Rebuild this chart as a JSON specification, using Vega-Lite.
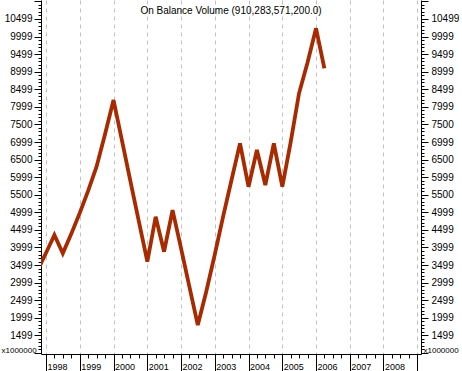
{
  "$schema": "https://vega.github.io/schema/vega-lite/v6.json",
  "width": 380,
  "height": 354,
  "autosize": {"type": "none"},
  "padding": {"left": 41, "top": 0, "right": 41, "bottom": 17},
  "background": "white",
  "config": {"view": {"stroke": null}, "font": "Liberation Sans"},
  "title": {"text": "On Balance Volume (910,283,571,200.0)", "fontSize": 10, "font": "Liberation Sans", "fontWeight": "normal", "color": "black", "anchor": "middle", "offset": -20},
  "data": {"values": [
    {"date": "1997-10-01", "obv": 3350},
    {"date": "1998-01-01", "obv": 3850},
    {"date": "1998-04-01", "obv": 4354},
    {"date": "1998-07-01", "obv": 3834},
    {"date": "1998-10-01", "obv": 4391},
    {"date": "1999-01-01", "obv": 4983},
    {"date": "1999-04-01", "obv": 5609},
    {"date": "1999-07-01", "obv": 6297},
    {"date": "1999-10-01", "obv": 7219},
    {"date": "2000-01-01", "obv": 8195},
    {"date": "2000-04-01", "obv": 7045},
    {"date": "2000-07-01", "obv": 5895},
    {"date": "2000-10-01", "obv": 4745},
    {"date": "2001-01-01", "obv": 3595},
    {"date": "2001-04-01", "obv": 4875},
    {"date": "2001-07-01", "obv": 3879},
    {"date": "2001-10-01", "obv": 5065},
    {"date": "2002-01-01", "obv": 3975},
    {"date": "2002-04-01", "obv": 2885},
    {"date": "2002-07-01", "obv": 1794},
    {"date": "2002-10-01", "obv": 2750},
    {"date": "2003-01-01", "obv": 3800},
    {"date": "2003-04-01", "obv": 4880},
    {"date": "2003-07-01", "obv": 5920},
    {"date": "2003-10-01", "obv": 6963},
    {"date": "2004-01-01", "obv": 5728},
    {"date": "2004-04-01", "obv": 6772},
    {"date": "2004-07-01", "obv": 5777},
    {"date": "2004-10-01", "obv": 6963},
    {"date": "2005-01-01", "obv": 5728},
    {"date": "2005-04-01", "obv": 6990},
    {"date": "2005-07-01", "obv": 8386},
    {"date": "2005-10-01", "obv": 9265},
    {"date": "2006-01-01", "obv": 10235},
    {"date": "2006-04-01", "obv": 9097}
  ]},
  "encoding": {
    "x": {
      "field": "date",
      "type": "temporal",
      "scale": {"type": "utc", "domain": [{"year": 1997, "month": 11, "date": 7, "utc": true}, {"year": 2009, "month": 2, "date": 10, "utc": true}]},
      "axis": {
        "tickCount": {"interval": "month", "step": 3},
        "domainColor": "black",
        "tickColor": "black",
        "tickSize": {"condition": {"test": "utcmonth(datum.value) == 0", "value": 17}, "value": 4},
        "labelExpr": "utcmonth(datum.value) == 0 && utcyear(datum.value) < 2009 ? '' + utcyear(datum.value) : ''",
        "labelAlign": "left",
        "labelBaseline": "top",
        "labelPadding": -9,
        "labelOffset": 1,
        "labelFontSize": 9,
        "labelColor": "black",
        "labelOverlap": false,
        "labelFlush": false,
        "labelBound": false,
        "grid": true,
        "gridColor": "#c0c0c0",
        "gridDash": [4, 4],
        "gridOpacity": {"condition": {"test": "utcmonth(datum.value) == 0", "value": 1}, "value": 0},
        "title": null
      }
    },
    "y": {"field": "obv", "type": "quantitative", "scale": {"domain": [970, 11040], "nice": false, "zero": false}}
  },
  "layer": [
    {
      "mark": {"type": "line", "color": "#a82a00", "strokeWidth": 3.8, "clip": true},
      "encoding": {
        "y": {
          "field": "obv", "type": "quantitative",
          "axis": {
            "orient": "left",
            "values": [1000,1100,1200,1300,1400,1500,1600,1700,1800,1900,2000,2100,2200,2300,2400,2500,2600,2700,2800,2900,3000,3100,3200,3300,3400,3500,3600,3700,3800,3900,4000,4100,4200,4300,4400,4500,4600,4700,4800,4900,5000,5100,5200,5300,5400,5500,5600,5700,5800,5900,6000,6100,6200,6300,6400,6500,6600,6700,6800,6900,7000,7100,7200,7300,7400,7500,7600,7700,7800,7900,8000,8100,8200,8300,8400,8500,8600,8700,8800,8900,9000,9100,9200,9300,9400,9500,9600,9700,9800,9900,10000,10100,10200,10300,10400,10500,10600,10700,10800,10900,11000],
            "domainColor": "black",
            "tickColor": "black",
            "tickSize": {"condition": {"test": "datum.value % 500 == 0", "value": 7}, "value": 3},
            "labelExpr": "datum.value % 500 == 0 && datum.value >= 1500 && datum.value <= 10500 ? ((datum.value == 5500 || datum.value == 6500 || datum.value == 7500) ? '' + datum.value : '' + (datum.value - 1)) : ''",
            "labelFontSize": 10,
            "labelColor": "black",
            "labelPadding": 2,
            "labelOverlap": false,
            "labelFlush": false,
            "labelBound": false,
            "grid": false,
            "title": "x1000000",
            "titleAngle": 0,
            "titleAlign": "left",
            "titleBaseline": "bottom",
            "titleX": -40,
            "titleY": 354,
            "titleFontSize": 8,
            "titleFontWeight": "normal",
            "titleColor": "black"
          }
        }
      }
    },
    {
      "mark": {"type": "line", "opacity": 0, "clip": true},
      "encoding": {
        "y": {
          "field": "obv", "type": "quantitative",
          "axis": {
            "orient": "right",
            "values": [1000,1100,1200,1300,1400,1500,1600,1700,1800,1900,2000,2100,2200,2300,2400,2500,2600,2700,2800,2900,3000,3100,3200,3300,3400,3500,3600,3700,3800,3900,4000,4100,4200,4300,4400,4500,4600,4700,4800,4900,5000,5100,5200,5300,5400,5500,5600,5700,5800,5900,6000,6100,6200,6300,6400,6500,6600,6700,6800,6900,7000,7100,7200,7300,7400,7500,7600,7700,7800,7900,8000,8100,8200,8300,8400,8500,8600,8700,8800,8900,9000,9100,9200,9300,9400,9500,9600,9700,9800,9900,10000,10100,10200,10300,10400,10500,10600,10700,10800,10900,11000],
            "domainColor": "black",
            "tickColor": "black",
            "tickSize": {"condition": {"test": "datum.value % 500 == 0", "value": 7}, "value": 3},
            "labelExpr": "datum.value % 500 == 0 && datum.value >= 1500 && datum.value <= 10500 ? ((datum.value == 5500 || datum.value == 6500 || datum.value == 7500) ? '' + datum.value : '' + (datum.value - 1)) : ''",
            "labelFontSize": 10,
            "labelColor": "black",
            "labelPadding": 3,
            "labelOverlap": false,
            "labelFlush": false,
            "labelBound": false,
            "grid": false,
            "title": "x1000000",
            "titleAngle": 0,
            "titleAlign": "left",
            "titleBaseline": "bottom",
            "titleX": 2,
            "titleY": 354,
            "titleFontSize": 8,
            "titleFontWeight": "normal",
            "titleColor": "black"
          }
        }
      }
    }
  ],
  "resolve": {"axis": {"y": "independent"}}
}
